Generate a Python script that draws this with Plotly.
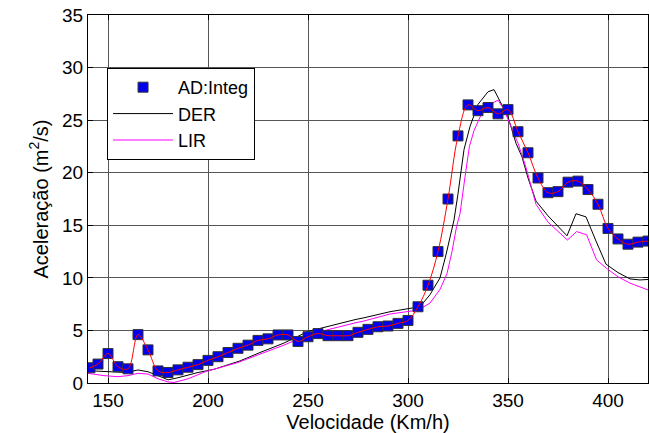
import plotly.graph_objects as go

# AD:Integ samples (velocity in km/h, acceleration)
vel_ad = [141, 145, 150, 155, 160, 165, 170, 175, 180, 185, 190, 195, 200,
          205, 210, 215, 220, 225, 230, 235, 240, 245, 250, 255, 260, 265,
          270, 275, 280, 285, 290, 295, 300, 305, 310, 315, 320, 325, 330,
          335, 340, 345, 350, 355, 360, 365, 370, 375, 380, 385, 390, 395,
          400, 405, 410, 415, 420]
acc_ad = [1.45, 1.8, 2.8, 1.55, 1.35, 4.6, 3.15, 1.15, 1.0, 1.25, 1.5, 1.75, 2.15,
          2.5, 2.9, 3.3, 3.6, 4.05, 4.2, 4.57, 4.57, 3.95, 4.4, 4.7, 4.5, 4.5,
          4.5, 4.82, 5.1, 5.35, 5.42, 5.67, 5.95, 7.25, 9.3, 12.5, 17.5, 23.5, 26.45,
          25.9, 26.2, 25.6, 26.0, 23.9, 21.9, 19.5, 18.1, 18.2, 19.1, 19.2, 18.4, 17.0,
          14.7, 13.7, 13.2, 13.4, 13.5]

# DER curve
vel_der = [140, 150, 159, 165, 170, 175, 180, 185, 195, 203, 216, 226, 238, 250,
           262, 274, 278, 291, 301, 306, 311, 316, 319, 323, 325, 328, 331, 335,
           340, 343, 346, 350, 354, 357, 360, 364, 370, 379.5, 384, 389, 394, 399,
           405, 411, 416, 420]
acc_der = [1.17, 1.1, 1.0, 1.24, 1.07, 0.7, 0.3, 0.5, 1.0, 1.3, 2.1, 2.9, 3.8, 4.9,
           5.5, 6.05, 6.2, 6.78, 7.1, 7.26, 8.4, 10.0, 12.2, 15.5, 18.0, 22.2, 24.4, 26.5,
           27.7, 27.9, 26.8, 25.3, 22.8, 21.5, 19.5, 17.3, 15.9, 14.0, 16.1, 15.8, 13.5, 11.3,
           10.5, 9.9, 9.8, 9.85]

# LIR curve
vel_lir = [140, 148, 155, 160, 165, 170, 175, 180, 183, 190, 199, 215, 226, 238,
           250, 262, 274, 278, 291, 303, 306, 311, 316, 319.5, 322, 324.3, 326,
           328.5, 330.7, 333, 337, 341, 345, 348, 351, 355, 359, 364, 370, 379.7,
           384.3, 389.3, 394.3, 399.3, 405, 411, 420]
acc_lir = [0.92, 0.7, 0.6, 0.7, 0.92, 0.85, 0.4, 0.1, 0.05, 0.4, 1.1, 1.95, 2.75, 3.6,
           4.6, 5.2, 5.74, 5.9, 6.56, 6.88, 7.04, 7.6, 8.9, 10.4, 12.5, 14.9, 16.1,
           19.6, 22.5, 24.0, 25.7, 26.5, 26.9, 26.0, 24.6, 22.8, 20.5, 17.0, 15.3, 13.6,
           14.4, 14.1, 11.7, 10.9, 10.1, 9.5, 8.85]

x_ticks = [150, 200, 250, 300, 350, 400]
y_ticks = [0, 5, 10, 15, 20, 25, 30, 35]

FONT = "Liberation Sans, Arial, sans-serif"

fig = go.Figure()

fig.add_trace(go.Scatter(
    x=vel_der, y=acc_der, mode="lines", name="DER",
    line=dict(color="black", width=1), legendrank=2))

fig.add_trace(go.Scatter(
    x=vel_lir, y=acc_lir, mode="lines", name="LIR",
    line=dict(color="#ff00ff", width=1), legendrank=3))

fig.add_trace(go.Scatter(
    x=vel_ad, y=acc_ad, mode="markers", name="AD:Integ",
    marker=dict(symbol="square", size=10, color="#0000ee",
                line=dict(color="#333333", width=1)),
    legendrank=1))

# smooth red curve through the AD samples
fig.add_trace(go.Scatter(
    x=vel_ad, y=acc_ad, mode="lines", showlegend=False,
    line=dict(color="red", width=1, shape="spline", smoothing=1.0)))

axis_common = dict(
    showline=True, linecolor="black", linewidth=1, mirror="ticks",
    ticks="inside", ticklen=5, tickcolor="black",
    showgrid=True, gridcolor="#555555", gridwidth=1,
    zeroline=False,
    tickfont=dict(family=FONT, size=19, color="black"),
)

fig.update_xaxes(
    range=[140, 420], tickvals=x_ticks,
    title=dict(text="Velocidade (Km/h)", font=dict(family=FONT, size=20, color="black"),
               standoff=3),
    **axis_common)
fig.update_yaxes(
    range=[0, 35], tickvals=y_ticks,
    title=dict(text="Aceleração (m<sup>2</sup>/s)", font=dict(family=FONT, size=20, color="black"),
               standoff=8),
    **axis_common)

fig.update_layout(
    width=650, height=433,
    margin=dict(l=88, r=2, t=15, b=50),
    plot_bgcolor="white", paper_bgcolor="white",
    font=dict(family=FONT, color="black"),
    legend=dict(
        x=0.034, y=0.856, xanchor="left", yanchor="top",
        bgcolor="white", bordercolor="black", borderwidth=1,
        font=dict(family=FONT, size=18, color="black"),
        tracegroupgap=0, itemwidth=60,
    ),
)

fig.write_html("out.html")
